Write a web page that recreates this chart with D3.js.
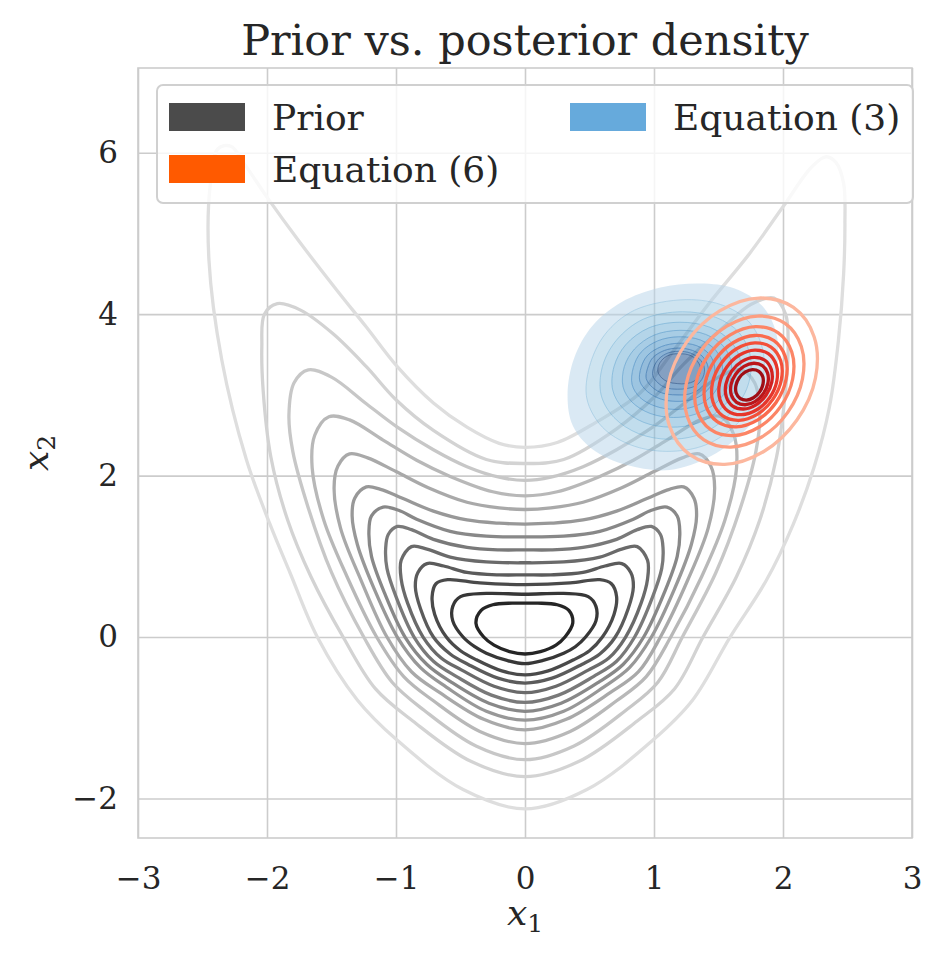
<!DOCTYPE html>
<html>
<head>
<meta charset="utf-8">
<script src="https://cdn.jsdelivr.net/npm/d3@7"></script>
<style>
  body { margin: 0; background: #fff; }
  svg text { font-family: "DejaVu Serif", serif; fill: #262626; }
</style>
</head>
<body>
<svg width="944" height="958"></svg>
<script>
// ---- data (x1, x2 pairs along each contour) ----
const xTicks = [-3, -2, -1, 0, 1, 2, 3];
const yTicks = [-2, 0, 2, 4, 6];
const legendLabels = ["Prior", "Equation (6)", "Equation (3)"];

// prior contours, lowest density level first
const priorLevel01 = [[0,-2.13],[0.48,-1.89],[0.99,-1.28],[1.30,-0.78],[1.59,0],[1.87,0.7],[2.08,1.4],[2.24,2.1],[2.36,2.85],[2.43,3.68],[2.47,4.5],[2.48,5.12],[2.47,5.62],[2.41,5.88],[2.33,5.95],[2.22,5.82],[2.0,5.33],[1.74,4.75],[1.42,4.12],[1.12,3.48],[0.89,3.02],[0.55,2.66],[0.25,2.41],[0,2.35],[-0.2,2.40],[-0.45,2.60],[-0.71,2.90],[-0.99,3.35],[-1.23,3.84],[-1.46,4.30],[-1.75,4.90],[-2.0,5.45],[-2.17,5.85],[-2.28,6.08],[-2.38,6.05],[-2.44,5.6],[-2.45,4.67],[-2.35,3.43],[-2.16,2.2],[-1.98,1.41],[-1.82,0.79],[-1.61,0],[-1.30,-0.78],[-0.99,-1.28],[-0.48,-1.89]];
const priorLevel02 = [[0,-1.73],[0.42,-1.54],[0.87,-1.04],[1.16,-0.64],[1.38,0],[1.64,0.75],[1.82,1.45],[1.95,2.23],[2.02,3.06],[2.04,3.6],[2.02,4.0],[1.93,4.2],[1.75,4.12],[1.54,3.84],[1.23,3.38],[1.0,2.97],[0.71,2.58],[0.3,2.2],[0,2.15],[-0.3,2.2],[-0.71,2.56],[-1.0,2.94],[-1.23,3.35],[-1.49,3.76],[-1.74,4.05],[-1.92,4.13],[-2.02,4.0],[-2.04,3.6],[-2.03,3.06],[-1.97,2.23],[-1.84,1.45],[-1.66,0.75],[-1.41,0],[-1.16,-0.64],[-0.87,-1.04],[-0.42,-1.54]];
const priorLevel03 = [[0,-1.52],[0.38,-1.35],[0.78,-0.91],[1.03,-0.56],[1.22,0],[1.48,0.8],[1.67,1.6],[1.79,2.3],[1.82,2.75],[1.78,3.15],[1.67,3.31],[1.5,3.22],[1.23,2.89],[0.99,2.60],[0.71,2.32],[0.45,2.11],[0.2,1.98],[0,1.94],[-0.2,1.98],[-0.45,2.11],[-0.71,2.32],[-0.99,2.60],[-1.23,2.89],[-1.5,3.22],[-1.68,3.31],[-1.79,3.15],[-1.83,2.75],[-1.80,2.3],[-1.68,1.6],[-1.5,0.8],[-1.25,0],[-1.03,-0.56],[-0.78,-0.91],[-0.38,-1.35]];
const priorLevel04 = [[0,-1.32],[0.35,-1.17],[0.71,-0.79],[0.94,-0.49],[1.13,0],[1.37,0.75],[1.55,1.45],[1.64,2.1],[1.62,2.5],[1.52,2.73],[1.36,2.69],[1.10,2.44],[0.84,2.19],[0.58,1.99],[0.25,1.8],[0,1.75],[-0.25,1.8],[-0.58,1.99],[-0.84,2.19],[-1.10,2.44],[-1.36,2.69],[-1.52,2.73],[-1.63,2.5],[-1.65,2.1],[-1.56,1.45],[-1.38,0.75],[-1.15,0],[-0.94,-0.49],[-0.71,-0.79],[-0.35,-1.17]];
const priorLevel05 = [[0,-1.15],[0.32,-1.02],[0.66,-0.69],[0.88,-0.43],[1.05,0],[1.26,0.7],[1.42,1.35],[1.47,1.85],[1.44,2.12],[1.35,2.27],[1.22,2.22],[1.0,2.05],[0.75,1.85],[0.45,1.67],[0.2,1.6],[0,1.58],[-0.2,1.6],[-0.45,1.67],[-0.75,1.85],[-1.0,2.05],[-1.22,2.22],[-1.36,2.27],[-1.45,2.12],[-1.48,1.85],[-1.43,1.35],[-1.27,0.7],[-1.07,0],[-0.88,-0.43],[-0.66,-0.69],[-0.32,-1.02]];
const priorLevel06 = [[0,-1.03],[0.30,-0.92],[0.61,-0.62],[0.81,-0.38],[0.98,0],[1.16,0.6],[1.29,1.15],[1.33,1.5],[1.31,1.72],[1.23,1.86],[1.12,1.83],[0.95,1.72],[0.71,1.56],[0.45,1.45],[0.2,1.41],[0,1.40],[-0.2,1.41],[-0.45,1.45],[-0.71,1.56],[-0.95,1.72],[-1.12,1.83],[-1.23,1.86],[-1.32,1.72],[-1.34,1.5],[-1.30,1.15],[-1.17,0.6],[-0.99,0],[-0.81,-0.38],[-0.61,-0.62],[-0.30,-0.92]];
const priorLevel07 = [[0,-0.92],[0.28,-0.82],[0.58,-0.55],[0.76,-0.34],[0.92,0],[1.08,0.55],[1.18,1.0],[1.20,1.3],[1.18,1.5],[1.10,1.61],[0.98,1.57],[0.84,1.46],[0.58,1.31],[0.3,1.25],[0,1.24],[-0.3,1.25],[-0.58,1.31],[-0.84,1.46],[-0.98,1.57],[-1.10,1.61],[-1.19,1.5],[-1.21,1.3],[-1.19,1.0],[-1.09,0.55],[-0.93,0],[-0.76,-0.34],[-0.58,-0.55],[-0.28,-0.82]];
const priorLevel08 = [[0,-0.81],[0.26,-0.72],[0.53,-0.49],[0.71,-0.30],[0.85,0],[0.99,0.5],[1.06,0.85],[1.07,1.1],[1.05,1.27],[0.98,1.37],[0.87,1.33],[0.71,1.21],[0.45,1.11],[0.2,1.08],[0,1.08],[-0.2,1.08],[-0.45,1.11],[-0.71,1.21],[-0.88,1.33],[-0.99,1.37],[-1.06,1.27],[-1.08,1.1],[-1.07,0.85],[-1.0,0.5],[-0.86,0],[-0.71,-0.30],[-0.53,-0.49],[-0.26,-0.72]];
const priorLevel09 = [[0,-0.69],[0.24,-0.61],[0.49,-0.41],[0.65,-0.26],[0.78,0],[0.9,0.42],[0.95,0.72],[0.95,0.95],[0.87,1.12],[0.75,1.09],[0.58,0.99],[0.3,0.93],[0,0.92],[-0.3,0.93],[-0.58,0.99],[-0.76,1.09],[-0.88,1.12],[-0.96,0.95],[-0.96,0.72],[-0.91,0.42],[-0.79,0],[-0.65,-0.26],[-0.49,-0.41],[-0.24,-0.61]];
const priorLevel10 = [[0,-0.57],[0.21,-0.51],[0.44,-0.34],[0.58,-0.21],[0.70,0],[0.80,0.35],[0.84,0.62],[0.82,0.8],[0.75,0.91],[0.62,0.88],[0.45,0.8],[0.2,0.77],[0,0.77],[-0.2,0.77],[-0.45,0.8],[-0.63,0.88],[-0.76,0.91],[-0.83,0.8],[-0.85,0.62],[-0.81,0.35],[-0.71,0],[-0.58,-0.21],[-0.44,-0.34],[-0.21,-0.51]];
const priorLevel11 = [[0,-0.47],[0.18,-0.42],[0.38,-0.28],[0.50,-0.17],[0.60,0],[0.69,0.28],[0.71,0.5],[0.67,0.66],[0.58,0.71],[0.35,0.67],[0,0.65],[-0.35,0.67],[-0.6,0.71],[-0.69,0.66],[-0.72,0.5],[-0.7,0.28],[-0.61,0],[-0.50,-0.17],[-0.38,-0.28],[-0.18,-0.42]];
const priorLevel12 = [[0,-0.33],[0.14,-0.29],[0.30,-0.20],[0.39,-0.12],[0.47,0],[0.55,0.2],[0.55,0.38],[0.49,0.5],[0.3,0.54],[0,0.53],[-0.3,0.54],[-0.5,0.5],[-0.56,0.38],[-0.56,0.2],[-0.48,0],[-0.39,-0.12],[-0.30,-0.20],[-0.14,-0.29]];
const priorLevel13 = [[0,-0.21],[0.12,-0.18],[0.24,-0.1],[0.31,0],[0.37,0.17],[0.34,0.33],[0.25,0.4],[0.1,0.42],[0,0.42],[-0.1,0.42],[-0.25,0.4],[-0.34,0.33],[-0.38,0.17],[-0.32,0],[-0.24,-0.1],[-0.12,-0.18]];

// Equation (3): filled levels, outermost first
const eq3Level01 = [[1.36,4.38],[1.62,4.32],[1.84,4.1],[1.95,3.75],[1.95,3.3],[1.85,2.85],[1.70,2.55],[1.45,2.25],[1.12,2.07],[0.79,2.13],[0.52,2.33],[0.37,2.62],[0.33,3.0],[0.38,3.45],[0.52,3.85],[0.75,4.15],[1.05,4.33]];
const eq3Level02 = [[1.25,4.18],[1.55,4.1],[1.75,3.88],[1.85,3.5],[1.82,3.05],[1.65,2.65],[1.4,2.38],[1.1,2.3],[0.82,2.38],[0.6,2.6],[0.48,2.95],[0.5,3.35],[0.62,3.75],[0.85,4.05]];
const eq3Level03 = [[1.22,4.03],[1.48,3.96],[1.66,3.77],[1.75,3.45],[1.72,3.08],[1.58,2.75],[1.37,2.52],[1.12,2.45],[0.88,2.52],[0.69,2.72],[0.59,3.0],[0.6,3.35],[0.71,3.68],[0.92,3.94]];
const eq3Level04 = [[1.2,3.9],[1.43,3.84],[1.59,3.67],[1.67,3.42],[1.64,3.1],[1.52,2.83],[1.34,2.65],[1.13,2.6],[0.92,2.66],[0.76,2.83],[0.68,3.06],[0.69,3.35],[0.78,3.62],[0.96,3.83]];
const eq3Level05 = [[1.2,3.8],[1.4,3.75],[1.54,3.6],[1.6,3.39],[1.58,3.12],[1.48,2.9],[1.32,2.76],[1.15,2.72],[0.97,2.77],[0.83,2.91],[0.76,3.1],[0.77,3.35],[0.85,3.57],[1.0,3.74]];
const eq3Level06 = [[1.19,3.72],[1.36,3.68],[1.48,3.55],[1.53,3.37],[1.51,3.15],[1.43,2.96],[1.30,2.85],[1.16,2.82],[1.01,2.86],[0.89,2.97],[0.83,3.13],[0.84,3.34],[0.9,3.53],[1.03,3.67]];
const eq3Level07 = [[1.19,3.64],[1.33,3.61],[1.43,3.5],[1.47,3.35],[1.46,3.17],[1.39,3.02],[1.29,2.94],[1.17,2.92],[1.05,2.95],[0.95,3.04],[0.89,3.17],[0.9,3.34],[0.95,3.49],[1.06,3.6]];
const eq3Level08 = [[1.19,3.58],[1.3,3.55],[1.38,3.47],[1.42,3.34],[1.41,3.19],[1.35,3.07],[1.27,3.01],[1.17,3.0],[1.07,3.02],[0.99,3.09],[0.94,3.2],[0.95,3.33],[0.99,3.46],[1.08,3.55]];
const eq3Level09 = [[1.19,3.54],[1.28,3.52],[1.35,3.45],[1.39,3.34],[1.38,3.22],[1.33,3.12],[1.26,3.08],[1.18,3.07],[1.09,3.09],[1.03,3.15],[0.99,3.24],[1.0,3.35],[1.04,3.45],[1.11,3.52]];
const eq3Level10 = [[1.2,3.51],[1.28,3.49],[1.33,3.43],[1.36,3.34],[1.35,3.24],[1.31,3.17],[1.25,3.14],[1.18,3.14],[1.11,3.16],[1.06,3.21],[1.03,3.29],[1.04,3.38],[1.08,3.46],[1.13,3.5]];

// Equation (6): contour lines, outermost first
const eq6Level01 = [[2.081,4.083],[2.241,3.721],[2.252,3.211],[2.108,2.689],[1.851,2.299],[1.548,2.140],[1.280,2.257],[1.119,2.619],[1.109,3.129],[1.252,3.651],[1.509,4.041],[1.812,4.200]];
const eq6Level02 = [[2.016,3.885],[2.142,3.600],[2.151,3.198],[2.038,2.786],[1.835,2.478],[1.596,2.353],[1.384,2.445],[1.258,2.730],[1.249,3.132],[1.362,3.544],[1.565,3.852],[1.804,3.977]];
const eq6Level03 = [[1.963,3.768],[2.068,3.531],[2.075,3.197],[1.981,2.855],[1.812,2.599],[1.613,2.495],[1.437,2.572],[1.332,2.809],[1.325,3.143],[1.419,3.485],[1.588,3.741],[1.787,3.845]];
const eq6Level04 = [[1.930,3.672],[2.018,3.473],[2.024,3.193],[1.946,2.906],[1.804,2.691],[1.637,2.604],[1.490,2.668],[1.402,2.867],[1.396,3.147],[1.474,3.434],[1.616,3.649],[1.783,3.736]];
const eq6Level05 = [[1.907,3.591],[1.982,3.422],[1.987,3.184],[1.920,2.941],[1.800,2.758],[1.658,2.685],[1.533,2.739],[1.458,2.908],[1.453,3.146],[1.520,3.389],[1.640,3.572],[1.782,3.645]];
const eq6Level06 = [[1.886,3.510],[1.948,3.369],[1.952,3.171],[1.897,2.968],[1.797,2.816],[1.679,2.755],[1.574,2.800],[1.512,2.941],[1.508,3.139],[1.563,3.342],[1.663,3.494],[1.781,3.555]];
const eq6Level07 = [[1.860,3.429],[1.909,3.316],[1.913,3.158],[1.868,2.995],[1.788,2.874],[1.694,2.825],[1.610,2.861],[1.561,2.974],[1.557,3.132],[1.602,3.295],[1.682,3.416],[1.776,3.465]];
const eq6Level08 = [[1.840,3.363],[1.880,3.273],[1.883,3.145],[1.847,3.015],[1.783,2.917],[1.707,2.878],[1.640,2.907],[1.600,2.997],[1.597,3.125],[1.633,3.255],[1.697,3.353],[1.773,3.392]];
const eq6Level09 = [[1.813,3.292],[1.843,3.226],[1.845,3.133],[1.819,3.037],[1.771,2.965],[1.716,2.936],[1.667,2.958],[1.637,3.024],[1.635,3.117],[1.661,3.213],[1.709,3.285],[1.764,3.314]];

// ---- drawing ----
const svg = d3.select("svg");
const plotL = 138, plotR = 912, plotT = 68, plotB = 838;
const x = d3.scaleLinear().domain([-3, 3]).range([plotL, plotR]);
const y = d3.scaleLinear().domain([-2.49, 7.05]).range([plotB, plotT]);

svg.append("defs").append("clipPath").attr("id", "plot")
  .append("rect").attr("x", plotL).attr("y", plotT)
  .attr("width", plotR - plotL).attr("height", plotB - plotT);

// grid + tick labels through d3 axes
const xAxis = svg.append("g")
  .attr("transform", `translate(0,${plotB})`)
  .call(d3.axisBottom(x).tickValues(xTicks).tickFormat(d3.format("d"))
    .tickSize(-(plotB - plotT)).tickPadding(29));
const yAxis = svg.append("g")
  .attr("transform", `translate(${plotL},0)`)
  .call(d3.axisLeft(y).tickValues(yTicks).tickFormat(d3.format("d"))
    .tickSize(-(plotR - plotL)).tickPadding(20));
[xAxis, yAxis].forEach(a => {
  a.select(".domain").remove();
  a.selectAll(".tick line").attr("stroke", "#cccccc").attr("stroke-width", 1.6);
  a.selectAll(".tick text").attr("font-size", 31).attr("fill", "#262626")
    .attr("font-family", "DejaVu Serif, serif");
});

// frame
svg.append("rect").attr("x", plotL).attr("y", plotT)
  .attr("width", plotR - plotL).attr("height", plotB - plotT)
  .attr("fill", "none").attr("stroke", "#cccccc").attr("stroke-width", 1.6);

const lineGen = d3.line()
  .x(d => x(d[0])).y(d => y(d[1]))
  .curve(d3.curveCatmullRomClosed.alpha(0.5));

const plot = svg.append("g").attr("clip-path", "url(#plot)");

// prior
const priorLevels = [priorLevel01, priorLevel02, priorLevel03, priorLevel04, priorLevel05,
  priorLevel06, priorLevel07, priorLevel08, priorLevel09, priorLevel10,
  priorLevel11, priorLevel12, priorLevel13];
const greyT = d3.scaleLinear().domain([0, priorLevels.length - 1]).range([0.22, 0.88]);
plot.append("g").selectAll("path")
  .data(priorLevels)
  .join("path")
  .attr("d", lineGen)
  .attr("fill", "none")
  .attr("stroke", (d, i) => d3.interpolateGreys(greyT(i)))
  .attr("stroke-width", 3.3);

// Equation (3) filled bands
const eq3Levels = [eq3Level01, eq3Level02, eq3Level03, eq3Level04, eq3Level05,
  eq3Level06, eq3Level07, eq3Level08, eq3Level09, eq3Level10];
const blueT = d3.scaleLinear().domain([0, eq3Levels.length - 1]).range([0.3, 0.93]);
const bands = plot.append("g");
eq3Levels.forEach((lvl, i) => {
  const inner = eq3Levels[i + 1];
  bands.append("path")
    .attr("d", lineGen(lvl) + (inner ? lineGen(inner) : ""))
    .attr("fill-rule", "evenodd")
    .attr("fill", d3.interpolateBlues(blueT(i)))
    .attr("fill-opacity", 0.5);
});
bands.selectAll(".edge")
  .data(eq3Levels.slice(1))
  .join("path")
  .attr("class", "edge")
  .attr("d", lineGen)
  .attr("fill", "none")
  .attr("stroke", (d, i) => d3.interpolateBlues(Math.min(1, blueT(i + 1) + 0.08)))
  .attr("stroke-opacity", 0.45)
  .attr("stroke-width", 1);

// Equation (6) lines
const eq6Levels = [eq6Level01, eq6Level02, eq6Level03, eq6Level04, eq6Level05,
  eq6Level06, eq6Level07, eq6Level08, eq6Level09];
const redT = d3.scaleLinear().domain([0, eq6Levels.length - 1]).range([0.26, 0.88]);
plot.append("g").selectAll("path")
  .data(eq6Levels)
  .join("path")
  .attr("d", lineGen)
  .attr("fill", "none")
  .attr("stroke", (d, i) => d3.interpolateReds(redT(i)))
  .attr("stroke-width", 3.3);

// title and axis labels
svg.append("text").attr("x", (plotL + plotR) / 2).attr("y", 55)
  .attr("text-anchor", "middle").attr("font-size", 43)
  .text("Prior vs. posterior density");

const xl = svg.append("text").attr("x", (plotL + plotR) / 2).attr("y", 925)
  .attr("text-anchor", "middle").attr("font-size", 36);
xl.append("tspan").attr("font-style", "italic").text("x");
xl.append("tspan").attr("font-size", 25).attr("dy", 7).text("1");

const yl = svg.append("text")
  .attr("transform", `translate(48,${(plotT + plotB) / 2}) rotate(-90)`)
  .attr("text-anchor", "middle").attr("font-size", 36);
yl.append("tspan").attr("font-style", "italic").text("x");
yl.append("tspan").attr("font-size", 25).attr("dy", 7).text("2");

// legend
const legendColors = ["#4b4b4b", "#ff5a00", "#66aadc"];
const legendPos = [[169, 103], [169, 155], [570, 103]];
const legend = svg.append("g");
legend.append("rect").attr("x", 157).attr("y", 85).attr("width", 756).attr("height", 118)
  .attr("rx", 6).attr("fill", "#fff").attr("fill-opacity", 0.8)
  .attr("stroke", "#d0d0d0").attr("stroke-width", 2);
legend.selectAll(".item")
  .data(legendLabels)
  .join("g")
  .attr("class", "item")
  .attr("transform", (d, i) => `translate(${legendPos[i][0]},${legendPos[i][1]})`)
  .each(function (d, i) {
    const g = d3.select(this);
    g.append("rect").attr("width", 76).attr("height", 28).attr("fill", legendColors[i]);
    g.append("text").attr("x", 103).attr("y", 27).attr("font-size", 36).text(d);
  });
</script>
</body>
</html>
